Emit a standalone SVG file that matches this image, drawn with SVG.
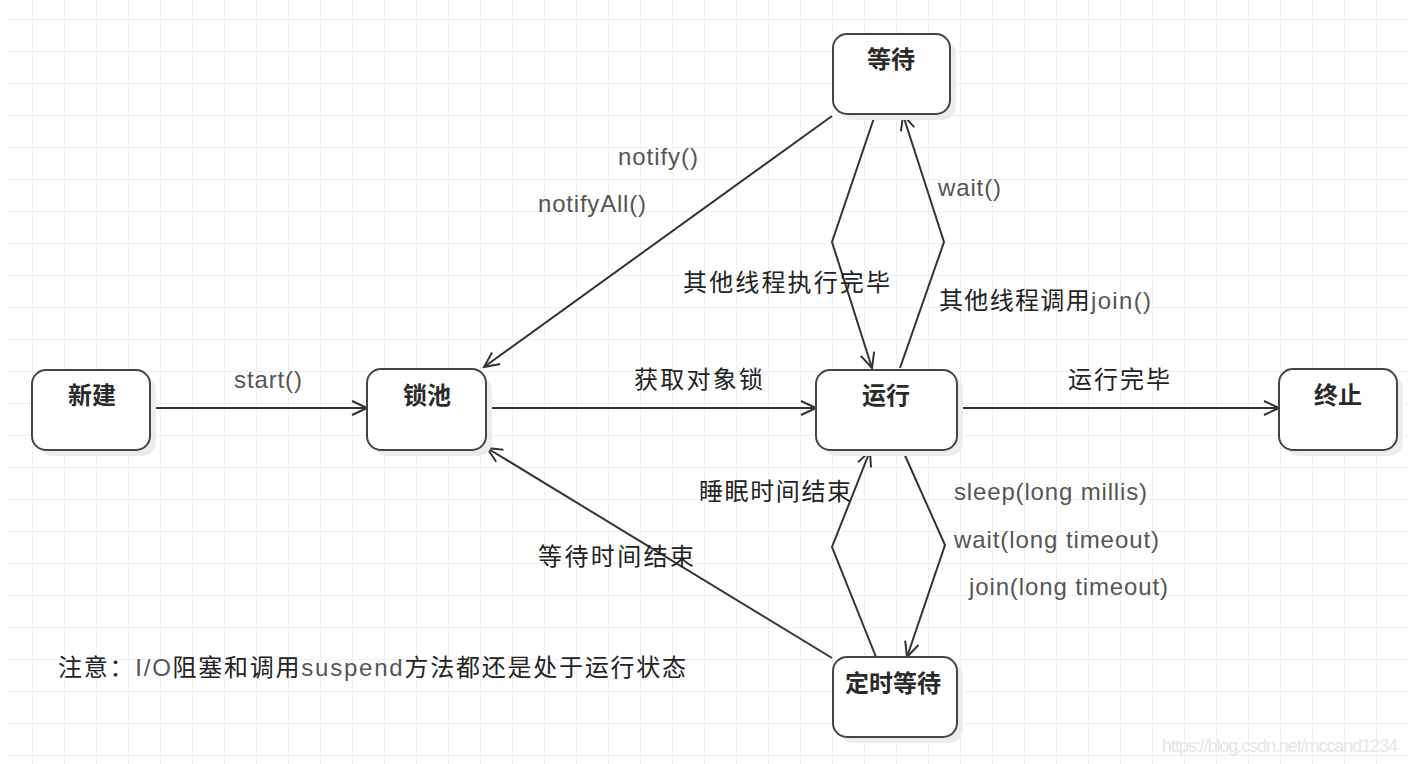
<svg xmlns="http://www.w3.org/2000/svg" width="1408" height="764" viewBox="0 0 1408 764">
<defs>
<pattern id="grid" x="1" y="19" width="32" height="32" patternUnits="userSpaceOnUse">
<path d="M0,0 H32 M32,0 V32" fill="none" stroke="#f0f0f0" stroke-width="2"/>
</pattern>
<marker id="arr" markerUnits="userSpaceOnUse" viewBox="-16 -8 18 16" refX="0" refY="0" markerWidth="18" markerHeight="16" orient="auto">
<path d="M-15,-7 L0,0 L-15,7" fill="none" stroke="#333" stroke-width="2"/>
</marker>
</defs>
<style>
.node rect.b{fill:#fff;stroke:#444;stroke-width:2}
.node rect.s{fill:#ececec}
.node text{font-family:"Noto Sans CJK SC","Liberation Sans",sans-serif;font-weight:bold;font-size:24px;fill:#2a2a2a;text-anchor:middle}
.conn path,.conn line{fill:none;stroke:#333;stroke-width:2;marker-end:url(#arr)}
.lbl{font-family:"Liberation Sans","Noto Sans CJK SC",sans-serif;font-size:24px;fill:#555}
.cn{font-family:"Noto Sans CJK SC",sans-serif;font-size:24px;fill:#222}
.wm{font-family:"Liberation Sans",sans-serif;font-size:18px;fill:#e6e6e6}
</style>
<rect width="1408" height="764" fill="#fff"/>
<rect x="6" y="0" width="1402" height="764" fill="url(#grid)"/>
<text class="wm" x="1162" y="752" textLength="236">https://blog.csdn.net/mccand1234</text>

<g class="conn">
<line x1="150" y1="408" x2="367" y2="408"/>
<line x1="486" y1="408" x2="816" y2="408"/>
<line x1="957" y1="408" x2="1279" y2="408"/>
<line x1="832" y1="116" x2="484" y2="367"/>
<line x1="832" y1="658" x2="487" y2="448"/>
<path d="M875,115 L832,242 L872,368"/>
<path d="M900,368 L944,242 L903,115"/>
<path d="M876,657 L832,547 L870,451"/>
<path d="M903,451 L945,545 L907,657"/>
</g>

<g id="n-new" class="node">
<rect class="s" x="38" y="376" width="118" height="80" rx="14"/>
<rect class="b" x="32" y="370" width="118" height="80" rx="14"/>
<text x="92" y="404">新建</text>
</g>
<g id="n-lock" class="node">
<rect class="s" x="373" y="376" width="119" height="80" rx="14"/>
<rect class="b" x="367" y="369" width="119" height="81" rx="14"/>
<text x="427" y="404">锁池</text>
</g>
<g id="n-run" class="node">
<rect class="s" x="822" y="376" width="141" height="80" rx="14"/>
<rect class="b" x="816" y="370" width="141" height="80" rx="14"/>
<text x="886" y="404">运行</text>
</g>
<g id="n-end" class="node">
<rect class="s" x="1285" y="375" width="118" height="81" rx="14"/>
<rect class="b" x="1279" y="369" width="118" height="81" rx="14"/>
<text x="1338" y="404">终止</text>
</g>
<g id="n-wait" class="node">
<rect class="s" x="839" y="40" width="117" height="80" rx="14"/>
<rect class="b" x="833" y="34" width="117" height="80" rx="14"/>
<text x="891" y="68">等待</text>
</g>
<g id="n-twait" class="node">
<rect class="s" x="839" y="663" width="124" height="80" rx="14"/>
<rect class="b" x="833" y="657" width="124" height="80" rx="14"/>
<text x="893" y="692">定时等待</text>
</g>

<g id="labels">
<text class="lbl" x="234" y="388" textLength="68">start()</text>
<text class="lbl" x="618" y="165" textLength="80">notify()</text>
<text class="lbl" x="538" y="212" textLength="108">notifyAll()</text>
<text class="lbl" x="938" y="196" textLength="63">wait()</text>
<text class="cn" x="683" y="291" textLength="207">其他线程执行完毕</text>
<text x="939" y="309" textLength="212"><tspan class="cn">其他线程调用</tspan><tspan class="lbl">join()</tspan></text>
<text class="cn" x="634" y="388" textLength="129">获取对象锁</text>
<text class="cn" x="1068" y="388" textLength="102">运行完毕</text>
<text class="cn" x="699" y="500" textLength="152">睡眠时间结束</text>
<text class="lbl" x="954" y="500" textLength="193">sleep(long millis)</text>
<text class="lbl" x="954" y="548" textLength="205">wait(long timeout)</text>
<text class="lbl" x="969" y="595" textLength="199">join(long timeout)</text>
<text class="cn" x="538" y="565" textLength="156">等待时间结束</text>
<text x="58" y="676" textLength="628"><tspan class="cn">注意：</tspan><tspan class="lbl">I/O</tspan><tspan class="cn">阻塞和调用</tspan><tspan class="lbl">suspend</tspan><tspan class="cn">方法都还是处于运行状态</tspan></text>
</g>
</svg>
